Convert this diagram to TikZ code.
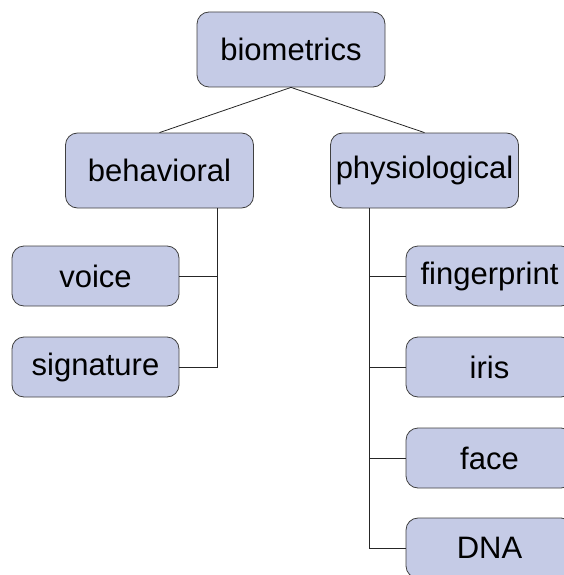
\documentclass[tikz,border=0pt]{standalone}
\usepackage{fontspec}
\setmainfont{Liberation Sans}
\begin{document}
\begin{tikzpicture}[x=1pt, y=-1pt,
      box/.style={
        draw=black!75,
        fill={rgb,255:red,197;green,203;blue,230},
        rounded corners=12pt,
        line width=0.8pt,
        inner sep=0pt,
        font=\fontsize{31}{36}\selectfont
      },
      bigbox/.style={
        box,
        minimum width=188pt,
        minimum height=75pt
      },
      leafbox/.style={
        box,
        minimum width=167pt,
        minimum height=60pt
      },
      link/.style={
        draw=black!85,
        line width=0.8pt
      },
    ]

    \useasboundingbox (0, 0) rectangle (563, 575);

    \node [bigbox] (biometrics) at (291, 49.5) {biometrics};
    \node [bigbox] (behavioral) at (159.5, 170.5) {behavioral};
    \node [bigbox] (physiological) at (424.5, 170.5) {physiological};

    \node [leafbox] (voice) at (95.5, 276) {voice};
    \node [leafbox] (signature) at (95.5, 367) {signature};

    \node [leafbox] (fingerprint) at (489.5, 276) {fingerprint};
    \node [leafbox] (iris) at (489.5, 367) {iris};
    \node [leafbox] (face) at (489.5, 458) {face};
    \node [leafbox] (dna) at (489.5, 548) {DNA};

    \coordinate (bhtrunk) at (217, 208);
    \coordinate (phtrunk) at (369, 208);

    \draw [link] (biometrics.south) -- (behavioral.north);
    \draw [link] (biometrics.south) -- (physiological.north);

    \draw [link] (bhtrunk) |- (signature.east);
    \draw [link] (voice.east) -- (voice.east -| bhtrunk);

    \draw [link] (phtrunk) |- (dna.west);
    \draw [link] (fingerprint.west) -- (fingerprint.west -| phtrunk);
    \draw [link] (iris.west) -- (iris.west -| phtrunk);
    \draw [link] (face.west) -- (face.west -| phtrunk);
\end{tikzpicture}
\end{document}
